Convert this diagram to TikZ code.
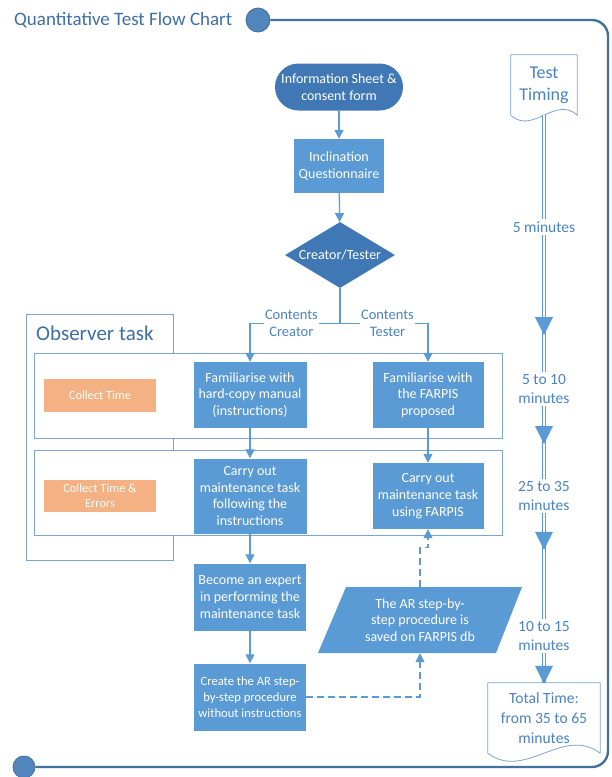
\documentclass[tikz,border=0pt]{standalone}
\usepackage{fontspec}
\setmainfont{Carlito}
\usepackage{tikz}
\usetikzlibrary{arrows.meta, shapes.geometric, decorations.markings, calc}

\definecolor{frameblue}{HTML}{41719C}
\definecolor{darkfill}{HTML}{3F78B4}
\definecolor{boxfill}{HTML}{5B9BD5}
\definecolor{linkblue}{HTML}{5B9BD5}
\definecolor{txtblue}{HTML}{4A82C2}
\definecolor{titleblue}{HTML}{3E6EA6}
\definecolor{rowline}{HTML}{7BA5D5}
\definecolor{orangefill}{HTML}{F4B183}

\begin{document}
\begin{tikzpicture}[x=1pt, y=-1pt,
        darkbox/.style={fill=darkfill, text=white, align=center, inner sep=0pt, font=\fontsize{14}{16.5}\selectfont},
        bluebox/.style={fill=boxfill, text=white, align=center, inner sep=2pt, font=\fontsize{14}{16.7}\selectfont},
        obsbox/.style={fill=orangefill, text=white, align=center, inner sep=1pt, minimum width=112, font=\fontsize{12.4}{15}\selectfont},
        flow/.style={draw=linkblue, line width=1.3pt, -{Triangle[width=9pt,length=9pt]}},
        dflow/.style={flow, dash pattern=on 7pt off 4pt},
        lbl/.style={fill=white, text=txtblue, align=center, inner sep=1.5pt, font=\fontsize{14.5}{16.5}\selectfont},
        timelbl/.style={text=txtblue, align=center, inner sep=2pt, font=\fontsize{15.5}{19}\selectfont},
        timeline/.style={draw=linkblue, line width=1.2pt, double=white, double distance=2.2pt},
        docline/.style={draw=rowline, line width=0.8pt, fill=white},
        rowbox/.style={draw=rowline, line width=0.9pt, fill=white},
        frame/.style={draw=frameblue, line width=2.4pt},
        dot/.style={circle, fill=darkfill!90!white, draw=frameblue, line width=0.8pt, inner sep=0pt},
        tip/.style={decoration={markings, mark=at position #1 with {\fill[linkblue] (1,0) -- (-17,9) -- (-17,-9) -- cycle;}}, postaction={decorate}}]
    \useasboundingbox (0,0) rectangle (612,777);

    \node[anchor=west, text=titleblue, inner sep=0pt, font=\fontsize{19}{22}\selectfont] (title) at (14,20) {Quantitative Test Flow Chart};
    \node[dot, minimum size=24] (tc) at (258,20) {};
    \node[dot, minimum size=22] (bc) at (24,767) {};
    \draw[frame, rounded corners=16] (tc.east) -- (608,20) -- (608,767) -- (bc.east);

    \draw[rowbox] (26,314) rectangle (173,560);
    \node[anchor=west, text=titleblue, inner sep=0pt, font=\fontsize{21}{24}\selectfont] (obs) at (36,333) {Observer task};
    \draw[rowbox] (34,353) rectangle (502,438);
    \draw[rowbox] (34,450) rectangle (502,535);
    \node[obsbox, minimum height=33] (ct1) at (100,395) {Collect Time};
    \node[obsbox, minimum height=32] (ct2) at (100,496) {Collect Time \&\\Errors};

    \node[darkbox, minimum width=128, minimum height=47, rounded corners=23.5] (info) at (339,87) {Information Sheet \&\\consent form};
    \node[bluebox, minimum width=90, minimum height=54] (incl) at (339,166) {Inclination\\Questionnaire};
    \node[darkbox, diamond, aspect=1.67, minimum width=110, minimum height=66] (diam) at (340,255) {Creator/Tester};
    \coordinate (split) at ($(diam.south)+(0,35)$);

    \node[bluebox, minimum width=113, minimum height=66] (fam1) at (250,395) {Familiarise with\\hard-copy manual\\(instructions)};
    \node[bluebox, minimum width=113, minimum height=75] (carry1) at (250,496) {Carry out\\maintenance task\\following the\\instructions};
    \node[bluebox, minimum width=112, minimum height=67] (expert) at (250,597) {Become an expert\\in performing the\\maintenance task};
    \node[bluebox, minimum width=112, minimum height=67, font=\fontsize{12.6}{16}\selectfont] (create) at (250,697) {Create the AR step-\\by-step procedure\\without instructions};

    \node[bluebox, minimum width=111, minimum height=66] (fam2) at (428,395) {Familiarise with\\the FARPIS\\proposed};
    \node[bluebox, minimum width=111, minimum height=66] (carry2) at (428,496) {Carry out\\maintenance task\\using FARPIS};
    \fill[boxfill] (346,587) -- (522,587) -- (496,653) -- (318,653) -- cycle;
    \node[bluebox, fill=none, minimum width=150, minimum height=66] (para) at (420,620) {The AR step-by-\\step procedure is\\saved on FARPIS db};

    \draw[flow] (info) -- (incl);
    \draw[flow] (incl) -- (diam);
    \draw[draw=linkblue, line width=1.3pt] (diam.south) -- (split);
    \draw[flow] (split) -| node[lbl, pos=0.27] {Contents\\Creator} (fam1.north);
    \draw[flow] (split) -| node[lbl, pos=0.27] {Contents\\Tester} (fam2.north);
    \draw[flow] (fam1) -- (carry1);
    \draw[flow] (fam2) -- (carry2);
    \draw[flow] (carry1) -- (expert);
    \draw[flow] (expert) -- (create);
    \draw[dflow] (create.east) -| (para.south);
    \draw[dflow] (para.north) -- ++(0,-39) -| (carry2.south);

    \node[timelbl, font=\fontsize{18}{22}\selectfont, minimum width=66, minimum height=60] (tt) at (544,85) {Test\\Timing};
    \draw[docline] (tt.south west) -- (tt.north west) -- (tt.north east) -- (tt.south east)
        .. controls +(-22,-20) and +(22,20) .. (tt.south west);
    \node[timelbl, font=\fontsize{18}{22}\selectfont] at (tt) {Test\\Timing};
    \node[timelbl] (t1) at (544,227) {5 minutes};
    \node[timelbl] (t2) at (544,389) {5 to 10\\minutes};
    \node[timelbl] (t3) at (544,496) {25 to 35\\minutes};
    \node[timelbl] (t4) at (544,636) {10 to 15\\minutes};
    \node[timelbl, font=\fontsize{15.6}{20}\selectfont, minimum width=112, minimum height=70] (tot) at (544,718) {Total Time:\\from 35 to 65\\minutes};
    \draw[docline] (tot.south west) -- (tot.north west) -- (tot.north east) -- (tot.south east)
        .. controls +(-37,-28) and +(37,28) .. (tot.south west);
    \node[timelbl, font=\fontsize{15.6}{20}\selectfont] at (tot) {Total Time:\\from 35 to 65\\minutes};

    \draw[timeline] (tt.south) -- (t1);
    \draw[timeline, tip=-38pt] (t1) -- (t2);
    \draw[timeline, tip=-36pt] (t2) -- (t3);
    \draw[timeline, tip=36pt] (t3) -- (t4);
    \draw[timeline, tip=1] (t4) -- (tot);
\end{tikzpicture}
\end{document}
